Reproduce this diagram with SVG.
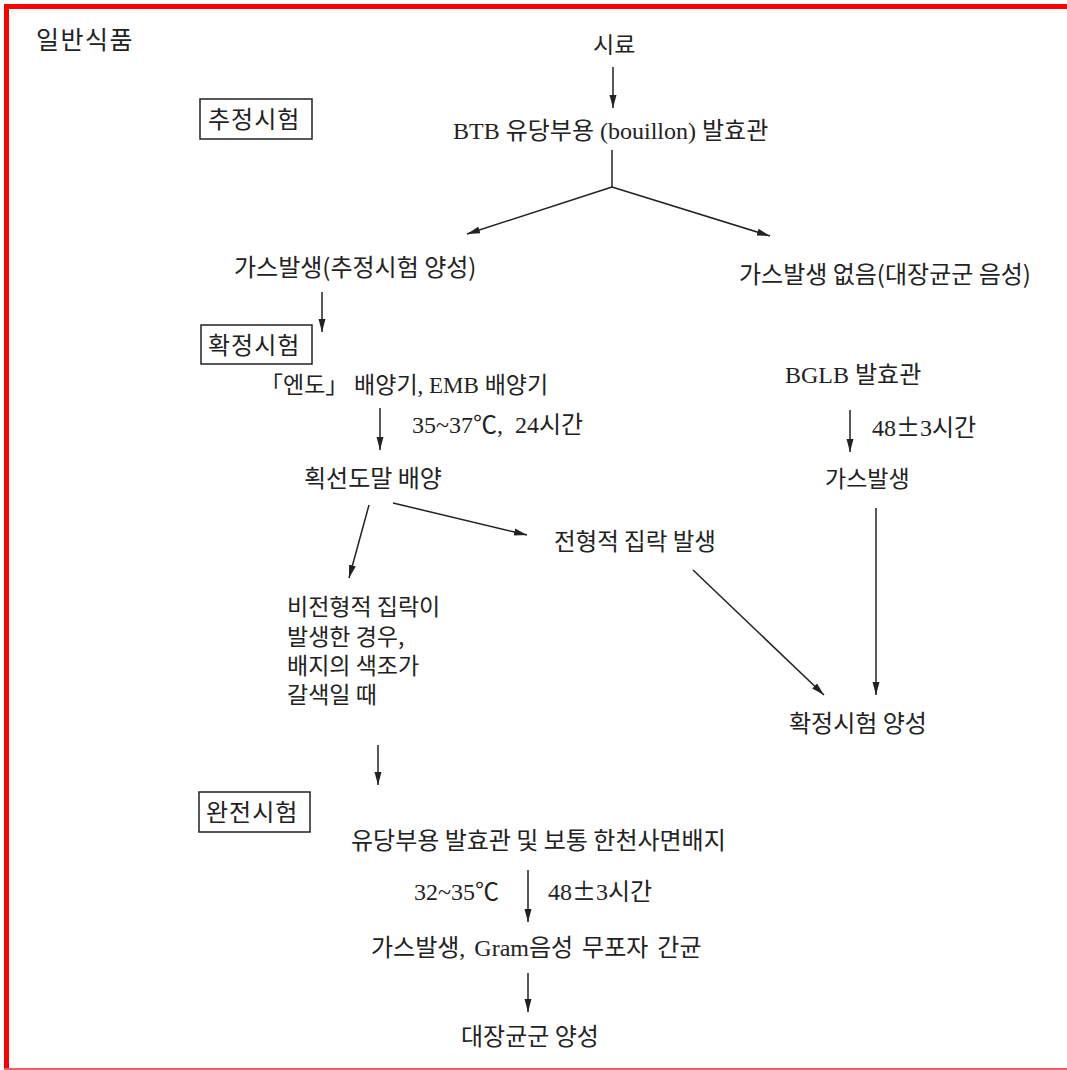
<svg xmlns="http://www.w3.org/2000/svg" width="1067" height="1070" viewBox="0 0 1067 1070">
<style>
.k{font-family:"Noto Sans CJK KR","Noto Sans",sans-serif;font-size:24px;fill:#222}
.m{font-family:"Liberation Serif","Noto Sans CJK KR",serif;font-size:24px;fill:#222}
.pm{font-family:"Noto Sans CJK KR",sans-serif}
.c{stroke:#222;stroke-width:1.5;fill:none}
.a{marker-end:url(#ah)}
.box{fill:none;stroke:#222;stroke-width:1.5}
</style>
<defs>
<marker id="ah" markerUnits="userSpaceOnUse" markerWidth="14" markerHeight="10" refX="13" refY="5" orient="auto">
<path d="M0,1.5 L13,5 L0,8.5 Z" fill="#222"/>
</marker>
</defs>
<rect width="1067" height="1070" fill="#fff"/>
<rect x="4" y="4" width="1063" height="5" fill="#ff0000"/>
<rect x="4" y="4" width="5" height="1066" fill="#ff0000"/>
<rect x="4" y="1068" width="1063" height="2" fill="#f06060"/>

<g id="connectors">
<line class="c a" x1="613" y1="67" x2="613" y2="108"/>
<line class="c" x1="612" y1="150" x2="612" y2="187"/>
<line class="c a" x1="612" y1="187" x2="467" y2="234"/>
<line class="c a" x1="612" y1="187" x2="770" y2="236"/>
<line class="c a" x1="322" y1="292" x2="322" y2="332"/>
<line class="c a" x1="380" y1="408" x2="380" y2="450"/>
<line class="c a" x1="850" y1="410" x2="850" y2="452"/>
<line class="c a" x1="369" y1="505" x2="349" y2="578"/>
<line class="c a" x1="393" y1="503" x2="527" y2="535"/>
<line class="c a" x1="693" y1="570" x2="824" y2="695"/>
<line class="c a" x1="876" y1="508" x2="876" y2="695"/>
<line class="c a" x1="378" y1="745" x2="378" y2="785"/>
<line class="c a" x1="528" y1="870" x2="528" y2="922"/>
<line class="c a" x1="528" y1="973" x2="528" y2="1012"/>
</g>

<g id="title"><text class="k" x="36" y="49" style="font-size:25px" letter-spacing="1.5">일반식품</text></g>
<g id="presumptive-label"><rect class="box" x="200" y="99" width="112" height="40"/><text class="k" x="208" y="128" letter-spacing="1">추정시험</text></g>
<g id="sample"><text class="k" x="593" y="53" style="font-size:23px">시료</text></g>
<g id="btb"><text class="m" x="453" y="139">BTB 유당부용 (bouillon) 발효관</text></g>
<g id="gas-positive"><text class="k" x="234" y="276">가스발생(추정시험 양성)</text></g>
<g id="gas-negative"><text class="k" x="739" y="283">가스발생 없음(대장균군 음성)</text></g>
<g id="confirm-label"><rect class="box" x="201" y="325" width="111" height="39"/><text class="k" x="208" y="354" letter-spacing="1">확정시험</text></g>
<g id="endo"><text class="m" x="260" y="393" style="font-size:23px">「엔도」 배양기, EMB 배양기</text></g>
<g id="cond1"><text class="m" x="412" y="433" word-spacing="6">35~37℃, 24시간</text></g>
<g id="streak"><text class="k" x="304" y="487">획선도말 배양</text></g>
<g id="bglb"><text class="m" x="785" y="383">BGLB 발효관</text></g>
<g id="cond2"><text class="m" x="872" y="436">48<tspan class="pm">±</tspan>3시간</text></g>
<g id="bglb-gas"><text class="k" x="825" y="487" style="font-size:23px">가스발생</text></g>
<g id="typical"><text class="k" x="554" y="550" style="font-size:23.5px">전형적 집락 발생</text></g>
<g id="atypical"><text class="k" x="287" style="font-size:23px"><tspan x="287" y="615">비전형적 집락이</tspan><tspan x="287" y="645">발생한 경우,</tspan><tspan x="287" y="674">배지의 색조가</tspan><tspan x="287" y="703">갈색일 때</tspan></text></g>
<g id="confirm-positive"><text class="k" x="789" y="732">확정시험 양성</text></g>
<g id="complete-label"><rect class="box" x="199" y="792" width="111" height="40"/><text class="k" x="206" y="821" letter-spacing="1">완전시험</text></g>
<g id="lactose"><text class="k" x="351" y="849">유당부용 발효관 및 보통 한천사면배지</text></g>
<g id="cond3a"><text class="m" x="414" y="900">32~35℃</text></g>
<g id="cond3b"><text class="m" x="548" y="900">48<tspan class="pm">±</tspan>3시간</text></g>
<g id="gram"><text class="m" x="371" y="956" word-spacing="3">가스발생, Gram음성 무포자 간균</text></g>
<g id="coliform-positive"><text class="k" x="461" y="1045">대장균군 양성</text></g>
</svg>
